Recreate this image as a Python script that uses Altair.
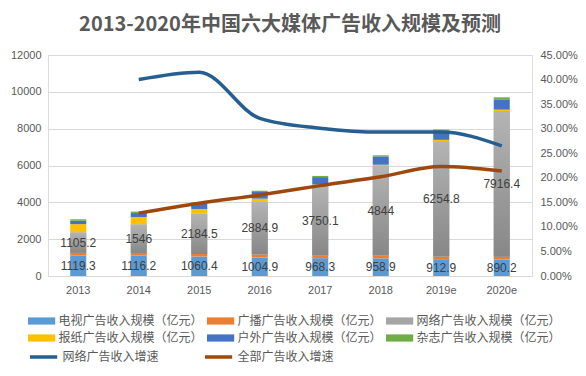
import altair as alt
import pandas as pd

years = ["2013", "2014", "2015", "2016", "2017", "2018", "2019e", "2020e"]
tv = [1119.3, 1116.2, 1060.4, 1004.9, 968.3, 958.9, 912.9, 890.2]
radio = [140, 135, 135, 160, 150, 150, 145, 150]
net = [1105.2, 1546, 2184.5, 2884.9, 3750.1, 4844, 6254.8, 7916.4]
paper = [450, 400, 260, 150, 100, 90, 80, 75]
outdoor = [185, 220, 280, 360, 400, 450, 500, 560]
mag = [80, 80, 75, 70, 65, 60, 60, 110]
net_growth = [None, 40.0, 41.5, 32.1, 30.1, 29.3, 29.3, 26.5]
total_growth = [None, 12.8, 14.8, 16.5, 18.4, 20.2, 22.3, 21.4]

bar_names = ["电视广告收入规模（亿元）", "广播广告收入规模（亿元）", "网络广告收入规模（亿元）",
             "报纸广告收入规模（亿元）", "户外广告收入规模（亿元）", "杂志广告收入规模（亿元）"]
line_names = ["网络广告收入增速", "全部广告收入增速"]
bar_colors = ["#5B9BD5", "#ED7D31", "#A5A5A5", "#FFC000", "#4472C4", "#70AD47"]
line_colors = ["#255E91", "#9E480E"]

rows = []
for k, (name, vals) in enumerate(zip(bar_names, [tv, radio, net, paper, outdoor, mag])):
    for y, v in zip(years, vals):
        rows.append({"year": y, "series": name, "value": v, "order": k, "label": f"{v:g}"})
bars_df = pd.DataFrame(rows)

lrows = []
for name, vals in zip(line_names, [net_growth, total_growth]):
    for y, v in zip(years, vals):
        if v is not None:
            lrows.append({"year": y, "lseries": name, "rate": v})
lines_df = pd.DataFrame(lrows)

FONT = "Liberation Sans"
CJK = "Noto Sans CJK SC"
TXT = "#595959"

x_enc = alt.X("year:N", sort=years,
              scale=alt.Scale(paddingInner=0.735, paddingOuter=0.3675),
              axis=alt.Axis(title=None, labelAngle=0, ticks=False, domainColor="#d9d9d9",
                            labelColor=TXT, labelFontSize=11, labelFont=FONT, labelPadding=8))

sym_bar = "M-1,-0.45L2.4,-0.45L2.4,0.45L-1,0.45Z"
sym_line = "M-1,0L2.4,0"

bar_legend = alt.Legend(title=None, orient="none", legendX=-20, legendY=258, columns=3,
                        direction="horizontal",
                        columnPadding=4, rowPadding=3, symbolSize=256, symbolType=sym_bar,
                        symbolStrokeWidth=0, labelOffset=14.5, labelFontSize=12, labelFont=CJK,
                        labelColor=TXT, labelLimit=220, padding=0)
line_legend = alt.Legend(title=None, orient="none", legendX=-20, legendY=292, columns=3,
                         direction="horizontal",
                         columnPadding=39, symbolSize=256, symbolType=sym_line,
                         symbolStrokeWidth=3.5, labelOffset=14.5, labelFontSize=12, labelFont=CJK,
                         labelColor=TXT, labelLimit=220, padding=0)

stacked = alt.Chart(bars_df).transform_stack(
    stack="value", groupby=["year"], as_=["v0", "v1"],
    sort=[alt.SortField("order", order="ascending")])

left_scale = alt.Scale(domain=[0, 12000])
left_axis = alt.Axis(title=None, values=list(range(0, 12001, 2000)), format="d",
                     ticks=False, domain=False, gridColor="#d9d9d9",
                     labelColor=TXT, labelFontSize=11, labelFont=FONT, labelPadding=7)

bars = stacked.mark_bar().encode(
    x=x_enc, y=alt.Y("v0:Q", scale=left_scale, axis=left_axis), y2="v1:Q",
    color=alt.Color("series:N", scale=alt.Scale(domain=bar_names, range=bar_colors),
                    legend=bar_legend))

net_overlay = stacked.transform_filter(alt.datum.series == bar_names[2]).mark_bar(
    color=alt.Gradient(gradient="linear", x1=0, x2=0, y1=0, y2=1,
                       stops=[alt.GradientStop(color="#b4b4b4", offset=0),
                              alt.GradientStop(color="#878787", offset=1)])
).encode(x=alt.X("year:N", sort=years),
         y=alt.Y("v0:Q", scale=left_scale, axis=left_axis), y2="v1:Q")

labels = stacked.transform_calculate(mid="(datum.v0 + datum.v1) / 2").transform_filter(
    alt.FieldOneOfPredicate(field="series", oneOf=[bar_names[0], bar_names[2]])
).mark_text(font=FONT, fontSize=12, color="#404040").encode(
    x=alt.X("year:N", sort=years),
    y=alt.Y("mid:Q", scale=left_scale, axis=left_axis), text="label:N")

left = alt.layer(bars, net_overlay, labels)

lines = alt.Chart(lines_df).mark_line(strokeWidth=3.5, interpolate="monotone").encode(
    x=alt.X("year:N", sort=years),
    y=alt.Y("rate:Q", scale=alt.Scale(domain=[0, 45]),
            axis=alt.Axis(title=None, orient="right", values=list(range(0, 46, 5)),
                          labelExpr="format(datum.value, '.2f') + '%'", ticks=False,
                          domain=False, grid=False, labelColor=TXT, labelFontSize=11,
                          labelFont=FONT, labelPadding=8)),
    color=alt.Color("lseries:N", scale=alt.Scale(domain=line_names, range=line_colors),
                    legend=line_legend))

chart = alt.layer(left, lines).resolve_scale(y="independent", color="independent").properties(
    width=484, height=221,
    padding={"left": 40, "top": 47, "right": 46, "bottom": 92},
    autosize=alt.AutoSizeParams(type="none"),
    title=alt.Title("2013-2020年中国六大媒体广告收入规模及预测", font=CJK, fontSize=20,
                    fontWeight="bold", color=TXT, anchor="middle", offset=14),
).configure_view(stroke=None).configure(background="white")

chart.save("out.html", embed_options={"renderer": "svg", "actions": False})
